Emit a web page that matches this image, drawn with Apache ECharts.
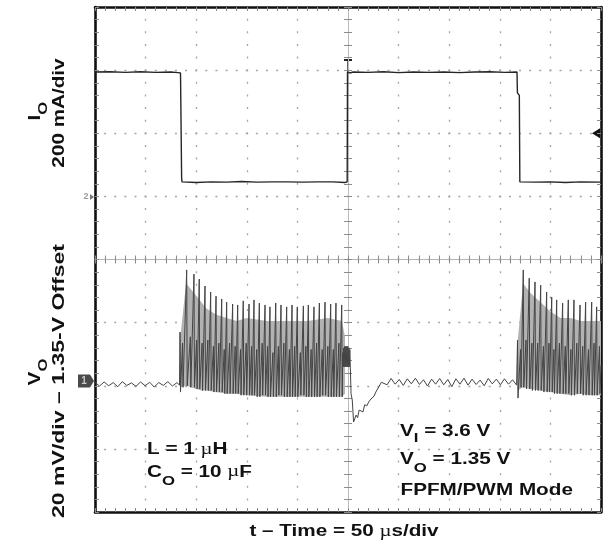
<!DOCTYPE html>
<html><head><meta charset="utf-8">
<script src="https://cdn.jsdelivr.net/npm/echarts@6/dist/echarts.min.js"></script>
<style>html,body{margin:0;padding:0;background:#fff}#c{width:610px;height:549px}</style>
</head><body><div id="c"></div>
<script>
// ---------- scales (scope screen: 10 x 8 divisions) ----------
const timeRange = [-250, 250];      // µs, 50 µs/div, trigger at centre
const timeStep = 50;
const divRange = [-4, 4];           // screen divisions
const ioRange = [-998, 602];        // mA, 200 mA/div (CH2 ground ≈ +0.99 div)
const voRange = [-41.5, 118.5];     // mV, 20 mV/div, offset 1.35 V (CH1 ground ≈ -1.93 div)
const ch2GroundDiv = 0.99;
const ch1GroundDiv = -1.925;
const triggerLevelDiv = 2;

// ---------- I_O trace [t µs, mA] ----------
const ioTrace = [
  [-250,396],[-235,397],[-220,395],[-205,397],[-190,395],[-175,396],[-168,394],[-165.5,393],
  [-164.4,60],[-164,48],[-150,46],[-135,48],[-120,47],[-105,49],[-90,47],[-75,48],[-60,48],
  [-45,47],[-30,48],[-15,48],[-3,46],[-0.8,48],[-0.5,396],[2,393],[5,396],[20,395],[35,397],
  [50,394],[65,396],[80,395],[95,396],[110,394],[125,396],[140,397],[155,395],[167,396],
  [167.4,330],[169.3,322],[169.8,48],[185,47],[200,48],[215,46],[230,48],[250,47]
];

// ---------- V_O trace [t µs, mV] ----------
const voPreBurst = [
  [-250,-0.4],[-245.5,-1.6],[-241,-0.3],[-236.5,-1.5],[-232,-0.5],[-227.5,-1.8],[-223,-0.2],
  [-218.5,-1.4],[-214,-0.6],[-209.5,-1.7],[-205,-0.3],[-200.5,-1.5],[-196,-0.4],[-191.5,-1.9],
  [-187,-0.5],[-182.5,-1.4],[-178,-0.2],[-173.5,-1.6],[-169,-0.5],[-166.5,-1.3]
];
const voBurst1 = [
  [-166,15.5],[-165.5,-3.5],[-163.5,12],[-163,-2],
  [-159.4,35.2],[-158.9,-1.5],[-155.8,14],[-155.3,-2],
  [-152.2,33.9],[-151.7,-2],[-149.6,13],[-149.1,-2.5],
  [-147.0,32.3],[-146.5,-2.5],[-144.2,12],[-143.7,-3],
  [-141.3,30.1],[-140.8,-3],[-138.5,13],[-138.0,-3],
  [-135.7,28.2],[-135.2,-3],[-133.0,11],[-132.5,-3.5],
  [-130.4,26.9],[-129.9,-3.5],[-127.6,12],[-127.1,-3.5],
  [-124.8,26.0],[-124.3,-3.5],[-122.3,10],[-121.8,-4],
  [-119.9,25.0],[-119.4,-4],[-117.0,12],[-116.5,-4],
  [-114.0,24.4],[-113.5,-4],[-111.5,11],[-111.0,-4],
  [-109.0,24.1],[-108.5,-4],[-106.2,10],[-105.7,-4.5],
  [-103.5,25.4],[-103.0,-4.5],[-100.6,12],[-100.1,-4.5],
  [-97.8,24.4],[-97.3,-4.5],[-95.3,11],[-94.8,-4.5],
  [-92.9,25.7],[-92.4,-4.5],[-90.2,10],[-89.7,-5],
  [-87.6,24.7],[-87.1,-5],[-84.8,12],[-84.3,-4.5],
  [-82.0,24.1],[-81.5,-4.5],[-79.5,11],[-79.0,-5],
  [-77.1,23.5],[-76.6,-5],[-74.2,9],[-73.7,-5],
  [-71.4,24.7],[-70.9,-5],[-68.8,11],[-68.3,-4.5],
  [-66.2,24.1],[-65.7,-4.5],[-63.4,12],[-62.9,-5],
  [-60.6,23.5],[-60.1,-5],[-57.9,10],[-57.4,-5],
  [-55.3,24.1],[-54.8,-5],[-52.7,11],[-52.2,-5],
  [-50.1,23.5],[-49.6,-5],[-47.1,9],[-46.6,-4.5],
  [-44.1,23.8],[-43.6,-4.5],[-41.6,11],[-41.1,-5],
  [-39.2,24.1],[-38.7,-5],[-36.4,10],[-35.9,-5],
  [-33.6,23.5],[-33.1,-5],[-31.0,12],[-30.5,-5],
  [-28.3,24.7],[-27.8,-5],[-25.5,10],[-25.0,-4.5],
  [-22.7,25.0],[-22.2,-4.5],[-19.9,11],[-19.4,-5],
  [-17.1,24.4],[-16.6,-5],[-14.5,10],[-14.0,-5],
  [-11.9,24.7],[-11.4,-5],[-9.0,12],[-8.5,-5],
  [-6.2,24.1],[-5.7,-5]
];
const voRecovery = [
  [-5.2,9],[-4.7,4.5],[-4.2,10.5],[-3.7,4.5],[-3.2,11],[-2.7,4.5],[-2.2,11],[-1.7,4.5],[-1.2,11],
  [-0.7,4.5],[-0.2,11],[0.3,4.5],[0.8,10.5],[1.3,4.5],[1.8,10],[2.3,4.5],[3,-4],[4.2,-6],[5.5,-13],
  [6.9,-12.5],[8,-10.8],[9.5,-11.6],[11,-9.2],[12.8,-8.9],[14.8,-9.8],[16.5,-7.5],[18.5,-7.9],
  [20.5,-6.6],[22.7,-5.7],[24.5,-5.2],[25.7,-4.8],[27.5,-3.5],[28.7,-3.2],[30.5,-1.8],
  [31.6,-1.3],[33,-0.4],[34.6,0.2],
  [38.6,-1.2],[42.6,0.8],[46.6,-1.0],[50.6,0.5],[54.6,-1.4],[58.6,0.7],[62.6,-0.9],[66.6,0.9],
  [70.6,-1.1],[74.6,0.4],[78.6,-1.6],[82.6,0.6],[86.6,-1.0],[90.6,0.8],[94.6,-1.2],[98.6,0.5],
  [102.6,-1.8],[106.6,0.7],[110.6,-1.0],[114.6,0.9],[118.6,-1.3],[122.6,0.6],[126.6,-1.1],
  [130.6,0.3],[134.6,-1.5],[138.6,0.8],[142.6,-0.9],[146.6,0.6],[150.6,-1.2],[154.6,0.7],
  [158.6,-1.0],[162.6,0.4],[166.6,-1.3]
];
const voBurst2 = [
  [167.5,13],[168,-5.4],[170.5,10],[171,-2],
  [173.2,35.2],[173.7,-2],[175.9,13],[176.4,-2.5],
  [179.1,32.6],[179.6,-2.5],[181.7,12],[182.2,-3],
  [184.8,31.4],[185.3,-3],[187.4,12],[187.9,-3],
  [190.4,30.4],[190.9,-3],[193.1,11],[193.6,-3.5],
  [196.3,28.2],[196.8,-3.5],[198.6,12],[199.1,-3.5],
  [201.3,26.6],[201.8,-3.5],[203.5,10],[204,-4],
  [206.2,25.7],[206.7,-4],[208.9,12],[209.4,-4],
  [212.1,24.7],[212.6,-4],[214.7,11],[215.2,-4],
  [217.7,25.7],[218.2,-4],[220.3,10],[220.8,-4.5],
  [223.3,25.7],[223.8,-4.5],[226.1,12],[226.6,-4],
  [229.3,24.1],[229.8,-4],[231.9,11],[232.4,-4.5],
  [234.8,25.0],[235.3,-4.5],[237.6,10],[238.1,-4.5],
  [240.8,25.0],[241.3,-4.5],[243.1,12],[243.6,-4.5],
  [245.7,23.5],[246.2,-4.5],[248.5,11],[249,-4],[250,5]
];
// persistence (grey fill) of the switching bursts: [t µs, low mV, high mV]
const burst1Band = [
  [-166,-2,13],[-160,-1.5,31],[-155,-2,29],[-150,-2.5,27],[-145,-3,25],[-140,-3,23],
  [-130,-3.5,21],[-120,-4,20],[-110,-4,19],[-100,-4.5,20],[-80,-5,19],[-60,-5,19],
  [-40,-5,19],[-20,-5,20],[-6,-5,19],[-3,-4,14]
];
const burst2Band = [
  [167.5,-3,12],[173,-2,31],[180,-2.5,28],[190,-3,25],[200,-3.5,22],[210,-4,20],
  [220,-4.5,20],[230,-4,19],[240,-4.5,19],[250,-4.5,19]
];

// ---------- texts ----------
const annoLeft = ['L = 1 µH', 'C_O = 10 µF'];
const annoRight = ['V_I = 3.6 V', 'V_O = 1.35 V', 'FPFM/PWM Mode'];
const xTitle = 't – Time = 50 µs/div';
const ioTitle = ['I_O', '200 mA/div'];
const voTitle = ['V_O', '20 mV/div – 1.35-V Offset'];

// ---------- chart ----------
const SANS = '"Liberation Sans", Arial, Helvetica, sans-serif';
const SERIF = '"Liberation Serif", "Times New Roman", serif';
const tickStyle = {color:'#8c8c8c', width:1};

function borderX(pos, split) {
  return {type:'value', min:timeRange[0], max:timeRange[1], interval:timeStep, position:pos,
    axisLine:{show:true, onZero:false, lineStyle:{color:'#111', width:2.6}},
    axisTick:{show:true, inside:true, length:4, lineStyle:tickStyle},
    minorTick:{show:true, splitNumber:5, length:4, lineStyle:tickStyle},
    axisLabel:{show:false},
    splitLine:{show:split, lineStyle:{color:'#a4a4a4', width:1.3, type:[2, 10.625], dashOffset:1}}};
}
function borderY(pos, split) {
  return {type:'value', min:divRange[0], max:divRange[1], interval:1, position:pos,
    axisLine:{show:true, onZero:false, lineStyle:{color:'#111', width:2.6}},
    axisTick:{show:true, inside:true, length:4, lineStyle:tickStyle},
    minorTick:{show:true, splitNumber:5, length:4, lineStyle:tickStyle},
    axisLabel:{show:false},
    splitLine:{show:split, lineStyle:{color:'#a4a4a4', width:1.3, type:[2, 8.12], dashOffset:1}}};
}
function centreX(pos) {
  return {type:'value', min:timeRange[0], max:timeRange[1], interval:timeStep, position:pos,
    axisLine:{show:true, onZero:true, onZeroAxisIndex:0, lineStyle:{color:'#b4b4b4', width:1}},
    axisTick:{show:true, length:4, lineStyle:tickStyle},
    minorTick:{show:true, splitNumber:5, length:4, lineStyle:tickStyle},
    axisLabel:{show:false}, splitLine:{show:false}};
}
function centreY(pos) {
  return {type:'value', min:divRange[0], max:divRange[1], interval:1, position:pos,
    axisLine:{show:true, onZero:true, onZeroAxisIndex:0, lineStyle:{color:'#bcbcbc', width:1}},
    axisTick:{show:true, length:4, lineStyle:tickStyle},
    minorTick:{show:true, splitNumber:5, length:4, lineStyle:tickStyle},
    axisLabel:{show:false}, splitLine:{show:false}};
}
function bandSeries(rows) {
  return {type:'custom', xAxisIndex:0, yAxisIndex:5, data:rows, silent:true, z:3,
    encode:{x:0, y:[1,2]},
    renderItem:function(params, api) {
      if (params.dataIndex !== 0) return null;
      const top = rows.map(r => api.coord([r[0], r[2]]));
      const bot = rows.slice().reverse().map(r => api.coord([r[0], r[1]]));
      return {type:'polygon', shape:{points:top.concat(bot)}, style:{fill:'#b2b2b2'}};
    }};
}

const chart = echarts.init(document.getElementById('c'), null, {renderer:'canvas'});
chart.setOption({
  animation:false,
  backgroundColor:'#fff',
  grid:{left:95, right:9, top:7, bottom:37, outerBoundsMode:'none'},
  xAxis:[borderX('bottom', true), borderX('top', false), centreX('bottom'), centreX('top')],
  yAxis:[borderY('left', true), borderY('right', false), centreY('left'), centreY('right'),
    {type:'value', min:ioRange[0], max:ioRange[1], show:false},
    {type:'value', min:voRange[0], max:voRange[1], show:false}],
  series:[
    bandSeries(burst1Band),
    bandSeries(burst2Band),
    {type:'line', name:'IO', xAxisIndex:0, yAxisIndex:4, data:ioTrace, symbol:'none', silent:true,
     lineStyle:{color:'#262626', width:1.4}, z:5},
    {type:'line', name:'VO', xAxisIndex:0, yAxisIndex:5,
     data:[].concat(voPreBurst, voBurst1, voRecovery, voBurst2), symbol:'none', silent:true,
     lineStyle:{color:'#444', width:1}, z:5}
  ]
});

// ---------- text helper ----------
const mctx = document.createElement('canvas').getContext('2d');
function measure(t, font){ mctx.font = font; return mctx.measureText(t).width; }
function parseRuns(str, main, sub) {
  const runs = [];
  const m = str.match(/^(.)_(.)(.*)$/);
  const parts = m ? [{t:m[1]}, {t:m[2], sub:true}, {t:m[3]}] : [{t:str}];
  parts.forEach(p => {
    if (p.sub) { runs.push({t:p.t, size:sub.size, dy:sub.dy}); return; }
    p.t.split(/(µ)/).forEach(s => {
      if (!s) return;
      if (s === 'µ') runs.push({t:s, size:main, family:SERIF, weight:'normal'});
      else runs.push({t:s, size:main});
    });
  });
  return runs;
}
function textGroup(x0, y0, runs, o) {
  let cur = 0;
  const kids = runs.map(r => {
    const font = (r.weight || 'bold') + ' ' + r.size + 'px ' + (r.family || SANS);
    const k = {type:'text', x:cur, y:(r.dy || 0) - 0.3465 * r.size,
      style:{text:r.t, font:font, fill:'#111', align:'left', verticalAlign:'middle'}};
    cur += measure(r.t, font);
    return k;
  });
  if (o.align === 'center') kids.forEach(k => { k.x -= cur / 2; });
  return {type:'group', x:x0, y:y0, rotation:o.rotation || 0, scaleX:o.scaleX || 1, children:kids, silent:true};
}

const F = 16.7, SX = 1.24;
const SUB = {size:13.5, dy:8};
const g = [];
g.push(textGroup(147, 455, parseRuns(annoLeft[0], F, SUB), {scaleX:SX}));
g.push(textGroup(147, 477.7, parseRuns(annoLeft[1], F, SUB), {scaleX:SX}));
g.push(textGroup(400, 436.7, parseRuns(annoRight[0], F, {size:13.5, dy:6.5}), {scaleX:SX}));
g.push(textGroup(400, 465, parseRuns(annoRight[1], F, SUB), {scaleX:SX}));
g.push(textGroup(400.5, 496, parseRuns(annoRight[2], F, SUB), {scaleX:SX}));
g.push(textGroup(344, 537, parseRuns(xTitle, F, SUB), {scaleX:SX, align:'center'}));
g.push(textGroup(41, 111, parseRuns(ioTitle[0], F, {size:13.5, dy:7}), {scaleX:SX, align:'center', rotation:Math.PI/2}));
g.push(textGroup(65, 113, parseRuns(ioTitle[1], F, SUB), {scaleX:SX, align:'center', rotation:Math.PI/2}));
g.push(textGroup(41, 372, parseRuns(voTitle[0], F, {size:13.5, dy:7}), {scaleX:SX, align:'center', rotation:Math.PI/2}));
g.push(textGroup(65, 381, parseRuns(voTitle[1], F, SUB), {scaleX:1.38, align:'center', rotation:Math.PI/2}));

// ---------- scope markers (positions from the axes) ----------
const xc = chart.convertToPixel({xAxisIndex:0}, 0);
const xr = chart.convertToPixel({xAxisIndex:0}, timeRange[1]);
const xl = chart.convertToPixel({xAxisIndex:0}, timeRange[0]);
const yTrig = chart.convertToPixel({yAxisIndex:0}, triggerLevelDiv);
const yCh2 = chart.convertToPixel({yAxisIndex:0}, ch2GroundDiv);
const yCh1 = chart.convertToPixel({yAxisIndex:0}, ch1GroundDiv);
const yTop = chart.convertToPixel({yAxisIndex:0}, divRange[1]);
g.push({type:'polyline', silent:true, shape:{points:[[xc-4, yTop+53],[xc+4, yTop+53]]}, style:{stroke:'#222', lineWidth:2}});
g.push({type:'polyline', silent:true, shape:{points:[[xc, yTop+53],[xc, yTop+65]]}, style:{stroke:'#222', lineWidth:1.4}});
g.push({type:'polygon', silent:true, shape:{points:[[xr-9, yTrig],[xr-1, yTrig-5],[xr-1, yTrig+5]]}, style:{fill:'#111'}});
g.push({type:'text', silent:true, x:xl-9, y:yCh2, style:{text:'2', font:'bold 9px ' + SANS, fill:'#9a9a9a', align:'center', verticalAlign:'middle'}});
g.push({type:'polygon', silent:true, shape:{points:[[xl-5, yCh2-3],[xl-1, yCh2],[xl-5, yCh2+3]]}, style:{fill:'#777'}});
g.push({type:'rect', silent:true, shape:{x:xl-17, y:yCh1-6.5, width:12, height:13}, style:{fill:'#4a4a4a'}});
g.push({type:'polygon', silent:true, shape:{points:[[xl-5, yCh1-6.5],[xl-1, yCh1],[xl-5, yCh1+6.5]]}, style:{fill:'#4a4a4a'}});
g.push({type:'text', silent:true, x:xl-11, y:yCh1, style:{text:'1', font:'bold 10px ' + SANS, fill:'#c8c8c8', align:'center', verticalAlign:'middle'}});

chart.setOption({graphic:{elements:g}});
</script></body></html>
